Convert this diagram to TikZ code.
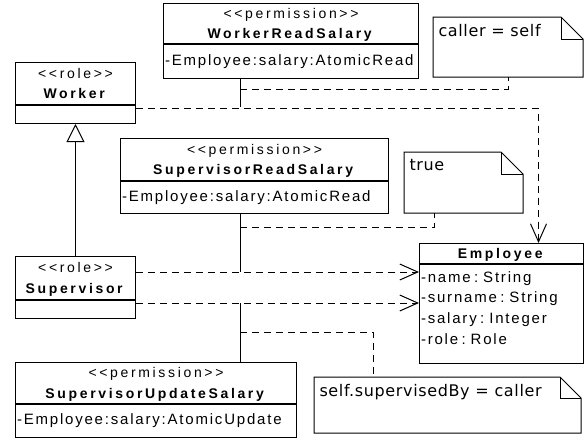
\documentclass[tikz,border=0pt]{standalone}
\usepackage{fontspec}
\setmainfont{Liberation Sans}
\newfontfamily\umlfont[LetterSpace=19]{Liberation Sans}
\newfontfamily\attrfont[LetterSpace=12,WordSpace=1.8]{Liberation Sans}
\newfontfamily\notefont[LetterSpace=4]{DejaVu Sans}
\usetikzlibrary{positioning,arrows.meta}

\newcommand{\stereo}[1]{<{}<#1>{}>}
% outline of a note with a folded corner
\newcommand{\noteoutline}[2]{%
    \draw (#1.north west) -- ([xshift=-#2]#1.north east) -- ([yshift=-#2]#1.north east)
        -- (#1.south east) -- (#1.south west) -- cycle;
    \draw ([xshift=-#2]#1.north east) |- ([yshift=-#2]#1.north east);}

\begin{document}
\begin{tikzpicture}[x=1pt,y=-1pt,line width=1pt]
    \tikzstyle{class head}=[draw,inner sep=0pt,minimum height=42pt,align=center,text depth=0pt,
        font=\umlfont\fontsize{14}{20.5}\selectfont]
    \tikzstyle{class body}=[draw,inner xsep=1.5pt,inner ysep=0pt,align=left,
        execute at begin node=\attrfont\fontsize{15}{20.7}\selectfont]
    \tikzstyle{note box}=[inner sep=0pt,anchor=north west]
    \tikzstyle{note text}=[anchor=north west,inner sep=0pt,xshift=5pt,yshift=-7pt,
        font=\notefont\fontsize{16}{18}\selectfont]
    \tikzstyle{dependency}=[dash pattern=on 7pt off 5pt]
    \tikzstyle{uses}=[dependency,-{Straight Barb[length=18pt,width=16pt]}]

    \useasboundingbox (0,0) rectangle (585,439);

    % Draw the permissions
    \node[class head,minimum width=255pt,minimum height=40pt,anchor=north west] (wrs) at (163,3)
        {\stereo{permission}\\\textbf{WorkerReadSalary}};
    \node[class body,text width=252pt,minimum height=34pt,below=0pt of wrs] (wrs-attr)
        {-Employee:salary:AtomicRead};
    \node[class head,minimum width=268pt,anchor=north west] (srs) at (120,138)
        {\stereo{permission}\\\textbf{SupervisorReadSalary}};
    \node[class body,text width=265pt,minimum height=32pt,below=0pt of srs] (srs-attr)
        {-Employee:salary:AtomicRead};
    \node[class head,minimum width=281pt,minimum height=41pt,anchor=north west] (sus) at (15,362)
        {\stereo{permission}\\\textbf{SupervisorUpdateSalary}};
    \node[class body,text width=278pt,minimum height=33pt,below=0pt of sus] (sus-attr)
        {-Employee:salary:AtomicUpdate};

    % Draw the roles
    \node[class head,minimum width=120pt,anchor=north west] (worker) at (15,62)
        {\stereo{role}\\\textbf{Worker}};
    \node[class body,minimum width=120pt,minimum height=18pt,below=0pt of worker] (worker-attr) {};
    \node[class head,minimum width=120pt,minimum height=43pt,anchor=north west] (supervisor) at (15,256)
        {\stereo{role}\\\textbf{Supervisor}};
    \node[class body,minimum width=120pt,minimum height=18pt,below=0pt of supervisor] (supervisor-attr) {};

    % Draw the protected class
    \node[class head,minimum width=164pt,minimum height=20pt,anchor=north west] (emp) at (419,243)
        {\textbf{Employee}};
    \node[class body,text width=161pt,minimum height=99pt,below=0pt of emp] (emp-attr)
        {-name : String\\-surname : String\\-salary : Integer\\-role : Role\\[-8pt]\mbox{}};

    % Draw the constraints
    \node[note box,minimum width=149pt,minimum height=59pt,
        label={[note text]north west:caller = self}] (cnote) at (433,17) {};
    \node[note box,minimum width=118pt,minimum height=60pt,
        label={[note text]north west:true}] (tnote) at (404,152) {};
    \node[note box,minimum width=266pt,minimum height=55pt,
        label={[note text]north west:self.supervisedBy = caller}] (snote) at (314,377) {};
    \noteoutline{cnote}{22pt}
    \noteoutline{tnote}{22pt}
    \noteoutline{snote}{21pt}

    % Supervisor is a Worker
    \draw[-{Triangle[open,length=18pt,width=18pt]}] (supervisor) -- (worker-attr);

    % Role -> Employee, with the permission attached
    \coordinate (w-mid) at (240,107);
    \coordinate (w-note) at (240,89);
    \coordinate (s-read) at ([yshift=-16pt]supervisor.north east);
    \coordinate (s-upd) at ([yshift=-3pt]supervisor-attr.north east);
    \coordinate (s-note) at (240,227);
    \coordinate (u-note) at (240,332);

    \draw[uses] ([yshift=-3pt]worker-attr.north east) -| ([xshift=37pt]emp.north);
    \draw (wrs-attr.south -| w-mid) -- (w-mid);
    \draw[dependency] (w-note) -| (cnote.south);

    \draw[uses] (s-read) -- (s-read -| emp-attr.west);
    \draw (srs-attr.south -| w-mid) -- (s-read -| w-mid);
    \draw[dependency] (s-note) -| ([xshift=-29pt]tnote.south);

    \draw[uses] (s-upd) -- (s-upd -| emp-attr.west);
    \draw (sus.north -| w-mid) -- (s-upd -| w-mid);
    \draw[dependency] (u-note) -| ([xshift=-74pt]snote.north);

\end{tikzpicture}
\end{document}
